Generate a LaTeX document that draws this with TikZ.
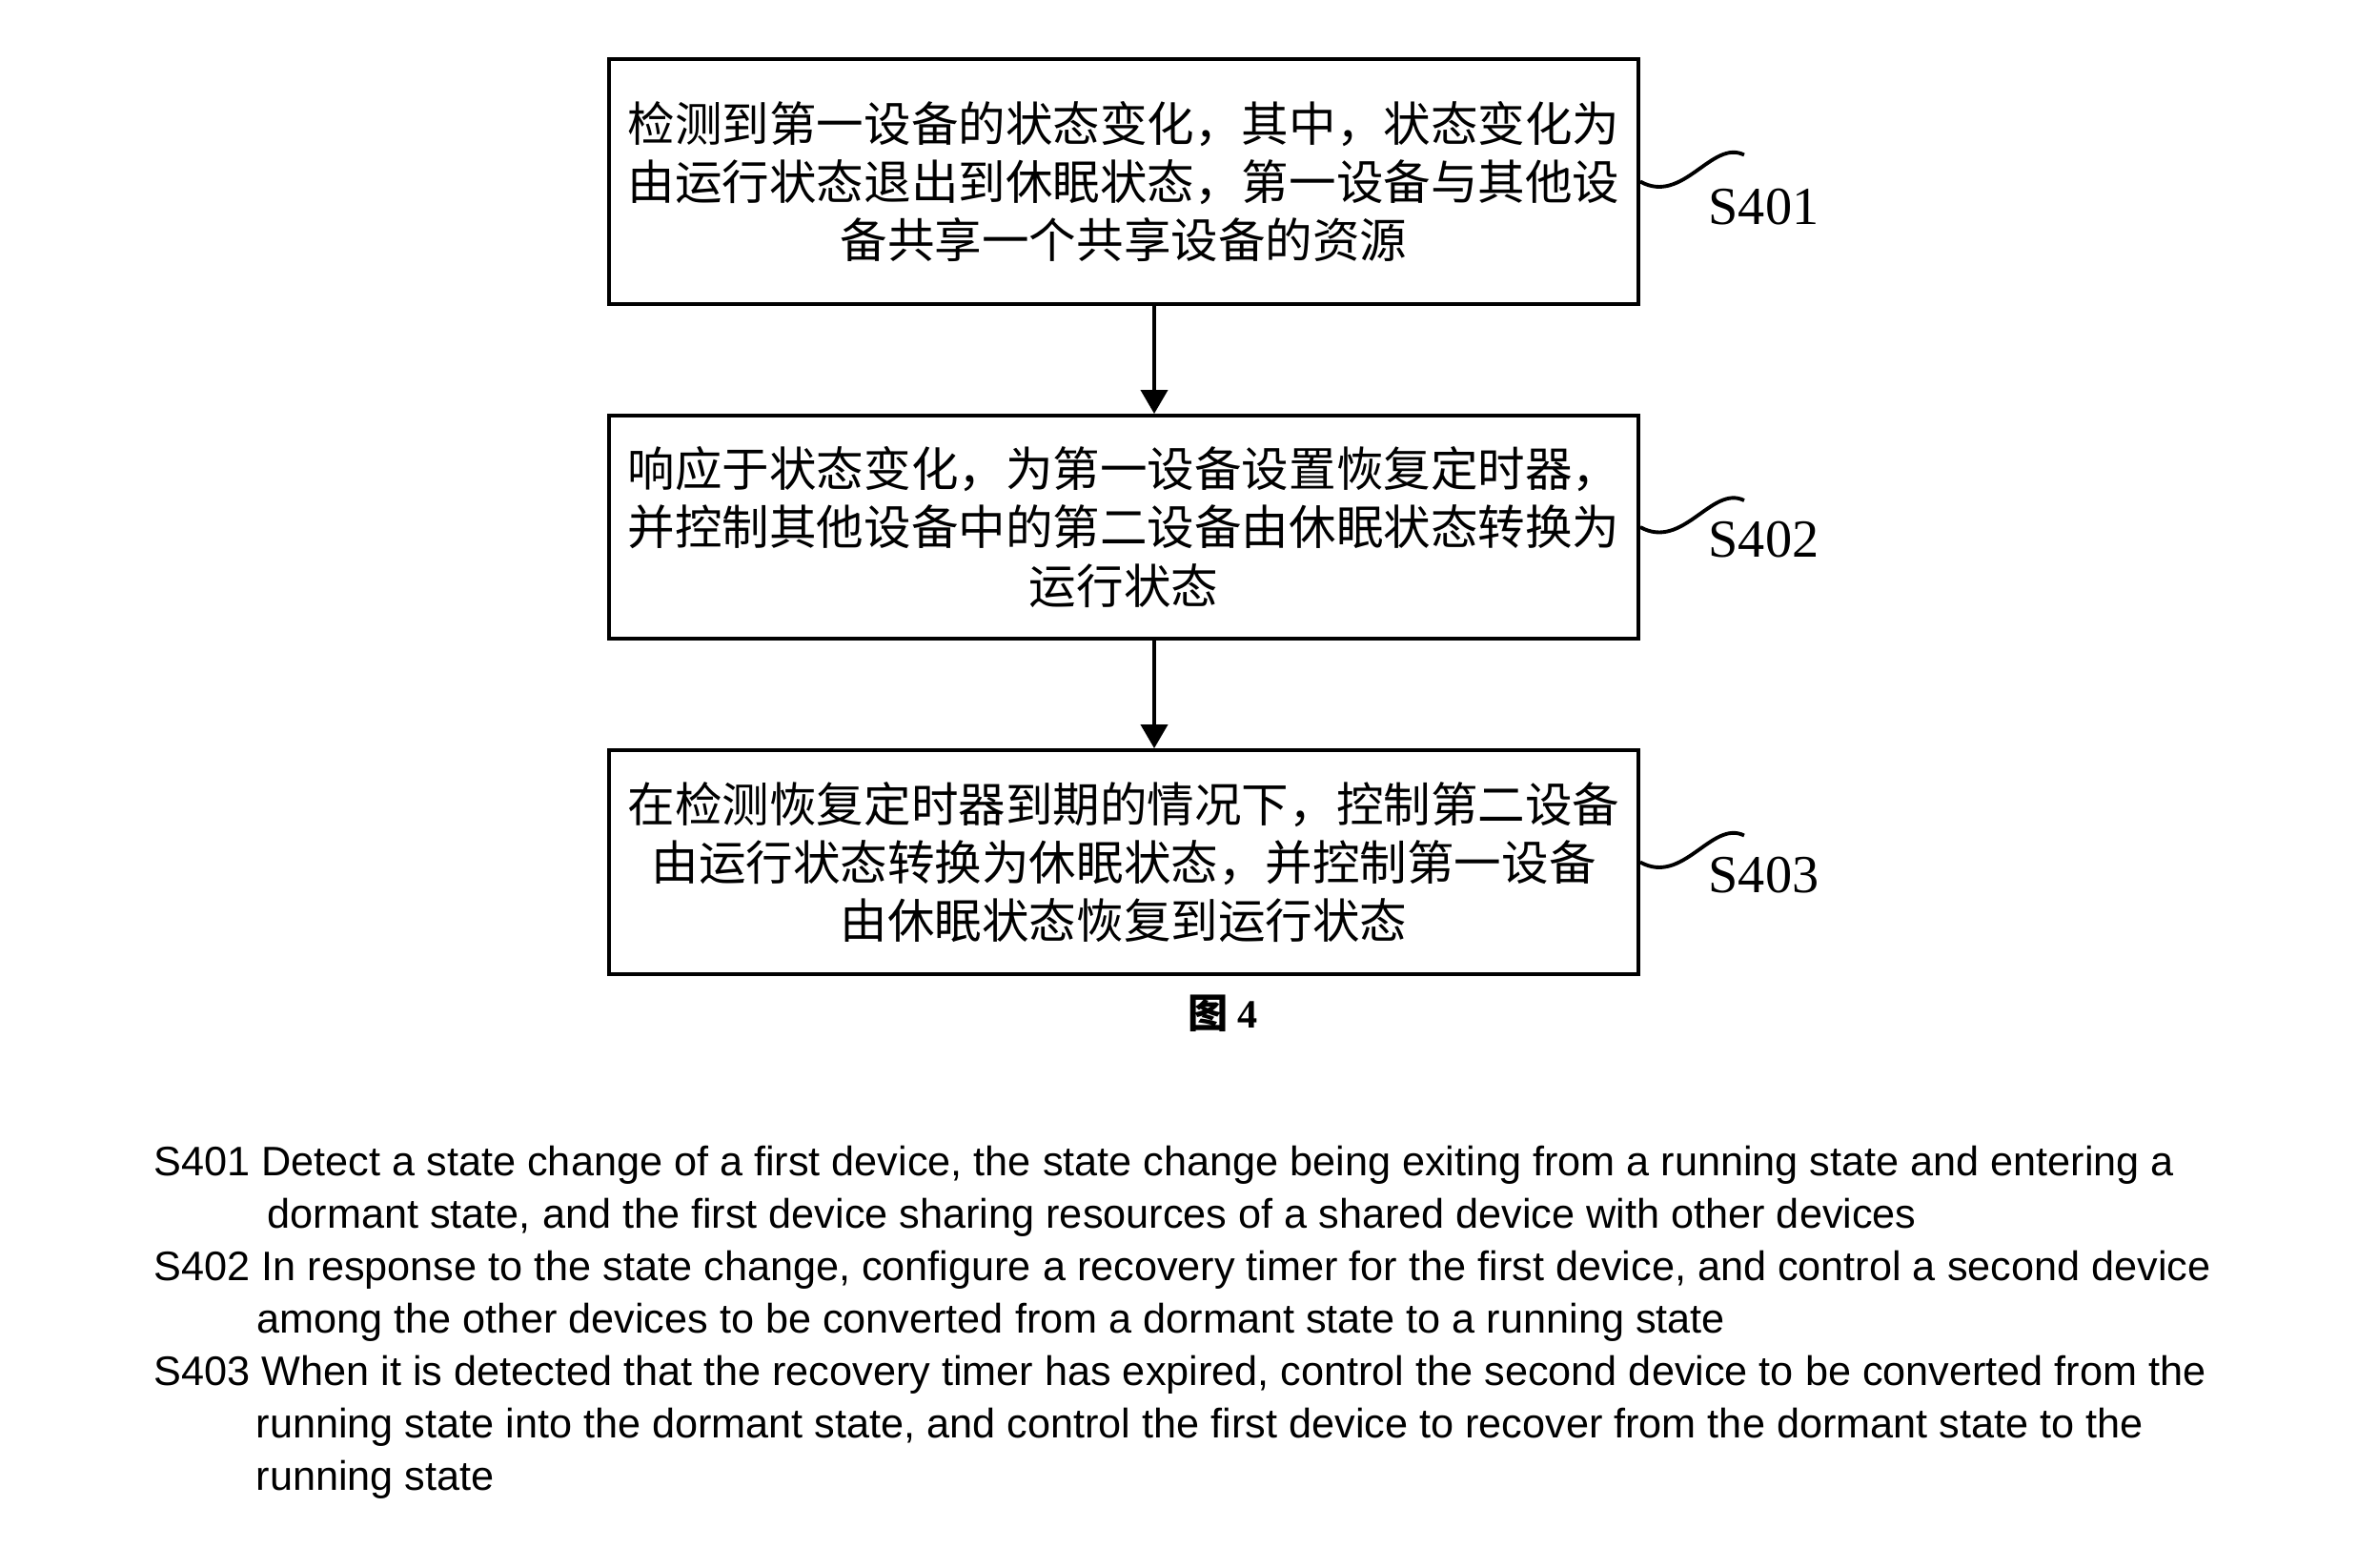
\documentclass[tikz,border=0pt]{standalone}
\usepackage{fontspec}
\setmainfont{Liberation Serif}
\newfontfamily\cjk{Noto Sans CJK SC}
\newfontfamily\ensans{Liberation Sans}
\usetikzlibrary{arrows.meta}

\begin{document}
\begin{tikzpicture}[
  stepbox/.style={draw, line width=1.1pt, minimum width=10.8cm, text width=10.6cm,
    align=center, inner sep=0pt, font=\cjk\fontsize{14.1}{17.4}\selectfont},
  flow/.style={line width=1.1pt, -{Triangle[width=0.28cm,length=0.25cm]}},
  wave/.style={line width=1.1pt},
  tag/.style={anchor=base west, inner sep=0pt, font=\fontsize{16}{19}\selectfont},
  note/.style={anchor=base west, inner sep=0pt, font=\ensans\fontsize{12.3}{14}\selectfont}]
\useasboundingbox (0,0) rectangle (24.74,-16.44);
%\node {\includegraphics{fig4.png}};
\node[stepbox, minimum height=2.57cm] (s1) at (11.79,-1.905)
  {检测到第一设备的状态变化，其中，状态变化为\\由运行状态退出到休眠状态，第一设备与其他设\\备共享一个共享设备的资源};
\node[stepbox, minimum height=2.34cm] (s2) at (11.79,-5.53)
  {响应于状态变化，为第一设备设置恢复定时器，\\并控制其他设备中的第二设备由休眠状态转换为\\运行状态};
\node[stepbox, minimum height=2.35cm] (s3) at (11.79,-9.045)
  {在检测恢复定时器到期的情况下，控制第二设备\\由运行状态转换为休眠状态，并控制第一设备\\由休眠状态恢复到运行状态};
\draw[flow] ([xshift=0.32cm]s1.south) -- ([xshift=0.32cm]s2.north);
\draw[flow] ([xshift=0.32cm]s2.south) -- ([xshift=0.32cm]s3.north);
\foreach \i/\dy in {1/-0.45,2/-0.31,3/-0.32} {
  \coordinate (w\i) at ([shift={(1.09,0.28)}]s\i.east);
  \draw[wave] (s\i.east) .. controls +(0.45,-0.25) and +(-0.34,0.17) .. (w\i);
  \node[tag] (t\i) at ([shift={(0.71,\dy)}]s\i.east) {S40\i};
}
\node[font=\bfseries\fontsize{12}{14}\selectfont] (fig) at (12.83,-10.63) {{\cjk 图} 4};
\node[note] (n1) at (1.61,-12.33) {S401 Detect a state change of a first device, the state change being exiting from a running state and entering a};
\node[note] (n2) at (2.80,-12.88) {dormant state, and the first device sharing resources of a shared device with other devices};
\node[note] (n3) at (1.61,-13.43) {S402 In response to the state change, configure a recovery timer for the first device, and control a second device};
\node[note] (n4) at (2.69,-13.98) {among the other devices to be converted from a dormant state to a running state};
\node[note] (n5) at (1.61,-14.53) {S403 When it is detected that the recovery timer has expired, control the second device to be converted from the};
\node[note] (n6) at (2.68,-15.08) {running state into the dormant state, and control the first device to recover from the dormant state to the};
\node[note] (n7) at (2.68,-15.63) {running state};
\end{tikzpicture}
\end{document}
